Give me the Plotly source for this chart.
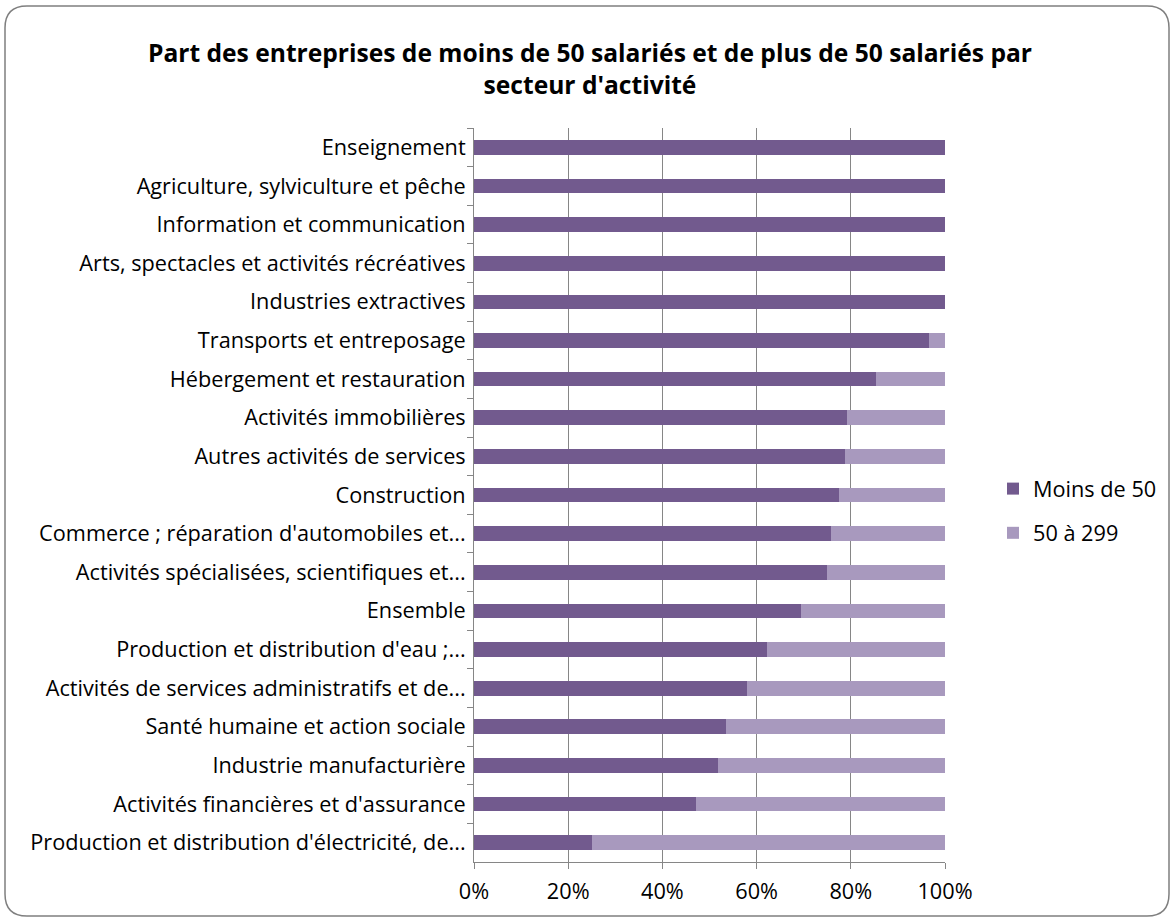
import plotly.graph_objects as go

categories = [
    "Enseignement",
    "Agriculture, sylviculture et pêche",
    "Information et communication",
    "Arts, spectacles et activités récréatives",
    "Industries extractives",
    "Transports et entreposage",
    "Hébergement et restauration",
    "Activités immobilières",
    "Autres activités de services",
    "Construction",
    "Commerce ; réparation d'automobiles et...",
    "Activités spécialisées, scientifiques et...",
    "Ensemble",
    "Production et distribution d'eau ;...",
    "Activités de services administratifs et de...",
    "Santé humaine et action sociale",
    "Industrie manufacturière",
    "Activités financières et d'assurance",
    "Production et distribution d'électricité, de...",
]
moins_de_50 = [100, 100, 100, 100, 100, 96.6, 85.4, 79.1, 78.8, 77.4, 75.8, 75.0,
               69.4, 62.3, 58.0, 53.4, 51.7, 47.1, 25.0]
de_50_a_299 = [0, 0, 0, 0, 0, 3.4, 14.6, 20.9, 21.2, 22.6, 24.2, 25.0,
               30.6, 37.7, 42.0, 46.6, 48.3, 52.9, 75.0]
x_ticks = [0, 20, 40, 60, 80, 100]
x_ticklabels = ["0%", "20%", "40%", "60%", "80%", "100%"]

FONT = "Open Sans"
FS = 21.7
W, H = 1175, 920
L, R, T, B = 474, 945, 128, 862

fig = go.Figure()
fig.add_trace(go.Bar(y=categories, x=moins_de_50, orientation="h", name="Moins de 50",
                     marker=dict(color="#725A8E", line=dict(width=0)), legendgroup="a"))
fig.add_trace(go.Bar(y=categories, x=de_50_a_299, orientation="h", name="50 à 299",
                     marker=dict(color="#A899BE", line=dict(width=0)), legendgroup="b"))

def px_x(p):
    return (p - L) / (R - L)

def px_y(p):
    return (B - p) / (B - T)

# rounded border of chart area
x0, x1, y0, y1, r = 5, 1169, 6, 916, 22
path = (f"M {px_x(x0 + r)},{px_y(y0)} L {px_x(x1 - r)},{px_y(y0)} "
        f"Q {px_x(x1)},{px_y(y0)} {px_x(x1)},{px_y(y0 + r)} "
        f"L {px_x(x1)},{px_y(y1 - r)} Q {px_x(x1)},{px_y(y1)} {px_x(x1 - r)},{px_y(y1)} "
        f"L {px_x(x0 + r)},{px_y(y1)} Q {px_x(x0)},{px_y(y1)} {px_x(x0)},{px_y(y1 - r)} "
        f"L {px_x(x0)},{px_y(y0 + r)} Q {px_x(x0)},{px_y(y0)} {px_x(x0 + r)},{px_y(y0)} Z")

fig.update_layout(
    width=W, height=H,
    margin=dict(l=L, r=W - R, t=T, b=H - B, pad=0),
    paper_bgcolor="white", plot_bgcolor="white",
    barmode="stack", bargap=0.62,
    font=dict(family=FONT, size=FS, color="#000000"),
    title=dict(text="<b>Part des entreprises de moins de 50 salariés et de plus de 50 salariés par<br>secteur d'activité</b>",
               x=590 / W, xref="container", xanchor="center", y=1 - 62 / H, yanchor="middle",
               font=dict(family=FONT, size=24.6, color="#000000")),
    xaxis=dict(range=[0, 100], tickvals=x_ticks, ticktext=x_ticklabels,
               showgrid=True, gridcolor="#868686", gridwidth=1,
               showline=True, linecolor="#868686", linewidth=1,
               ticks="outside", ticklen=6, tickcolor="#868686", zeroline=False,
               tickfont=dict(family=FONT, size=FS), ticklabelstandoff=4),
    yaxis=dict(categoryorder="array", categoryarray=categories, autorange="reversed",
               showline=True, linecolor="#868686", linewidth=1,
               ticks="outside", ticklen=6, tickcolor="#868686", tickson="boundaries",
               showgrid=False, tickfont=dict(family=FONT, size=FS), ticklabelstandoff=3),
    legend=dict(x=px_x(993), xanchor="left", y=px_y(511), yanchor="middle",
                traceorder="grouped", tracegroupgap=13,
                font=dict(family=FONT, size=FS), itemwidth=30),
    shapes=[dict(type="path", path=path, xref="paper", yref="paper",
                 line=dict(color="#7F7F7F", width=1.5), fillcolor="rgba(0,0,0,0)",
                 layer="below")],
)

fig.write_html("out.html")
